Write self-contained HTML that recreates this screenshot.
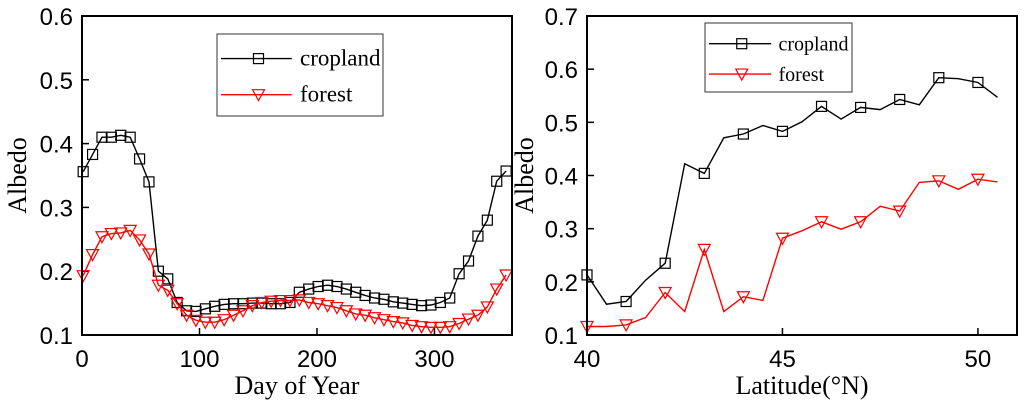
<!DOCTYPE html>
<html><head><meta charset="utf-8"><style>
body{margin:0;background:#fff}
svg text{font-family:"Liberation Sans",sans-serif}
.serif{font-family:"Liberation Serif",serif}
</style></head><body>
<svg id="c" width="1024" height="406" xmlns="http://www.w3.org/2000/svg"></svg>
<script>
const days=[1,9,17,25,33,41,49,57,65,73,81,89,97,105,113,121,129,137,145,153,161,169,177,185,193,201,209,217,225,233,241,249,257,265,273,281,289,297,305,313,321,329,337,345,353,361];
const cropDay=[0.356,0.383,0.41,0.41,0.413,0.41,0.376,0.34,0.2,0.188,0.151,0.138,0.137,0.141,0.145,0.148,0.149,0.149,0.15,0.15,0.149,0.149,0.151,0.167,0.172,0.176,0.178,0.176,0.172,0.167,0.162,0.158,0.156,0.152,0.15,0.148,0.146,0.147,0.151,0.158,0.196,0.216,0.255,0.28,0.341,0.357];
const forestDay=[0.193,0.226,0.254,0.259,0.26,0.264,0.249,0.227,0.178,0.17,0.149,0.131,0.123,0.12,0.12,0.124,0.131,0.138,0.146,0.151,0.153,0.154,0.154,0.155,0.151,0.149,0.146,0.143,0.138,0.133,0.131,0.127,0.124,0.121,0.119,0.115,0.113,0.112,0.112,0.113,0.118,0.125,0.131,0.144,0.172,0.194];
const lats=[40,40.5,41,41.5,42,42.5,43,43.5,44,44.5,45,45.5,46,46.5,47,47.5,48,48.5,49,49.5,50,50.5];
const cropLat=[0.213,0.158,0.163,0.203,0.235,0.422,0.404,0.471,0.478,0.494,0.483,0.501,0.53,0.506,0.528,0.524,0.543,0.533,0.584,0.582,0.575,0.547];
const forestLat=[0.116,0.116,0.119,0.133,0.18,0.144,0.261,0.144,0.172,0.165,0.282,0.296,0.313,0.299,0.313,0.342,0.333,0.387,0.39,0.374,0.393,0.388];
const leftXTicks=[0,100,200,300];
const leftYTicks=[0.1,0.2,0.3,0.4,0.5,0.6];
const rightXTicks=[40,45,50];
const rightYTicks=[0.1,0.2,0.3,0.4,0.5,0.6,0.7];

const svg=document.getElementById('c');
const NS='http://www.w3.org/2000/svg';
function mk(tag,attrs,parent,text){const e=document.createElementNS(NS,tag);for(const k in attrs)e.setAttribute(k,attrs[k]);if(text!==undefined)e.textContent=text;(parent||svg).appendChild(e);return e;}
function sq(g,x,y,c){return mk('rect',{x:x-5,y:y-5,width:10,height:10,fill:'none',stroke:c,'stroke-width':1.2},g);}
function tri(g,x,y,c){return mk('path',{d:`M${x-6},${y-5}L${x+6},${y-5}L${x},${y+6}Z`,fill:'none',stroke:c,'stroke-width':1.2},g);}

function chart(o){
  const sx=v=>o.x0+(v-o.xmin)/(o.xmax-o.xmin)*(o.x1-o.x0);
  const sy=v=>o.y1-(v-o.ymin)/(o.ymax-o.ymin)*(o.y1-o.y0);
  const g=mk('g',{});
  
  
  o.yt.forEach(t=>{
    const l=mk('line',{x1:o.x0,x2:o.x0+7,y1:sy(t),y2:sy(t),stroke:'#000','stroke-width':1.5},g);
    
    const tx=mk('text',{x:o.x0-9,y:sy(t)+9,'text-anchor':'end','font-size':24},g,t.toFixed(1));
    
  });
  o.xt.forEach(t=>{
    const l=mk('line',{x1:sx(t),x2:sx(t),y1:o.y1,y2:o.y1-7,stroke:'#000','stroke-width':1.5},g);
    
    const tx=mk('text',{x:sx(t),y:o.y1+32,'text-anchor':'middle','font-size':24},g,String(t));
    
  });
  o.series.forEach(s=>{
    const pts=s.x.map((v,i)=>sx(v).toFixed(1)+','+sy(s.y[i]).toFixed(1)).join(' ');
    const pl=mk('polyline',{points:pts,fill:'none',stroke:s.c,'stroke-width':1.4},g);
    
    s.x.forEach((v,i)=>{
      if(s.every && (v%1)!==0) return;
      const m=s.m==='sq'?sq(g,sx(v),sy(s.y[i]),s.c):tri(g,sx(v),sy(s.y[i]),s.c);
      
    });
  });
  const fr=mk('rect',{x:o.x0,y:o.y0,width:o.x1-o.x0,height:o.y1-o.y0,fill:'none',stroke:'#000','stroke-width':2},g);
  
  const yt=mk('text',{x:0,y:0,transform:`translate(${o.ytx},${(o.y0+o.y1)/2}) rotate(-90)`,'text-anchor':'middle','font-size':26,class:'serif'},g,'Albedo');
  
  const xt=mk('text',{x:(o.x0+o.x1)/2,y:o.y1+59,'text-anchor':'middle','font-size':26,class:'serif'},g,o.xtitle);
  
  const L=o.leg;
  const lg=mk('g',{},g);
  
  mk('rect',{x:L.x,y:L.y,width:L.w,height:L.h,fill:'#fff',stroke:'#333','stroke-width':1},lg);
  const r1=L.y+L.h*0.3, r2=L.y+L.h*0.74;
  mk('line',{x1:L.x+4,x2:L.x+L.w*0.45,y1:r1,y2:r1,stroke:'#000','stroke-width':1.4},lg);
  sq(lg,L.x+L.w*0.25,r1,'#000');
  const t1=mk('text',{x:L.x+L.w*0.5,y:r1+7,'font-size':L.fs,class:'serif'},lg,'cropland');
  
  mk('line',{x1:L.x+4,x2:L.x+L.w*0.45,y1:r2,y2:r2,stroke:'red','stroke-width':1.4},lg);
  tri(lg,L.x+L.w*0.25,r2,'red');
  const t2=mk('text',{x:L.x+L.w*0.5,y:r2+7,'font-size':L.fs,class:'serif'},lg,'forest');
  
}
chart({name:'day-of-year-chart',x0:82,x1:512,y0:16,y1:335,xmin:0,xmax:366,ymin:0.1,ymax:0.6,xt:leftXTicks,yt:leftYTicks,ytx:26,xtitle:'Day of Year',
  series:[{name:'cropland',x:days,y:cropDay,c:'#000',m:'sq'},{name:'forest',x:days,y:forestDay,c:'red',m:'tri'}],
  leg:{x:217,y:34,w:166,h:82,fs:23}});
chart({name:'latitude-chart',x0:587,x1:1017,y0:16,y1:335,xmin:40,xmax:51,ymin:0.1,ymax:0.7,xt:rightXTicks,yt:rightYTicks,ytx:533,xtitle:'Latitude(°N)',
  series:[{name:'cropland',x:lats,y:cropLat,c:'#000',m:'sq',every:true},{name:'forest',x:lats,y:forestLat,c:'red',m:'tri',every:true}],
  leg:{x:705,y:23,w:147,h:69,fs:20}});
</script>
</body></html>
